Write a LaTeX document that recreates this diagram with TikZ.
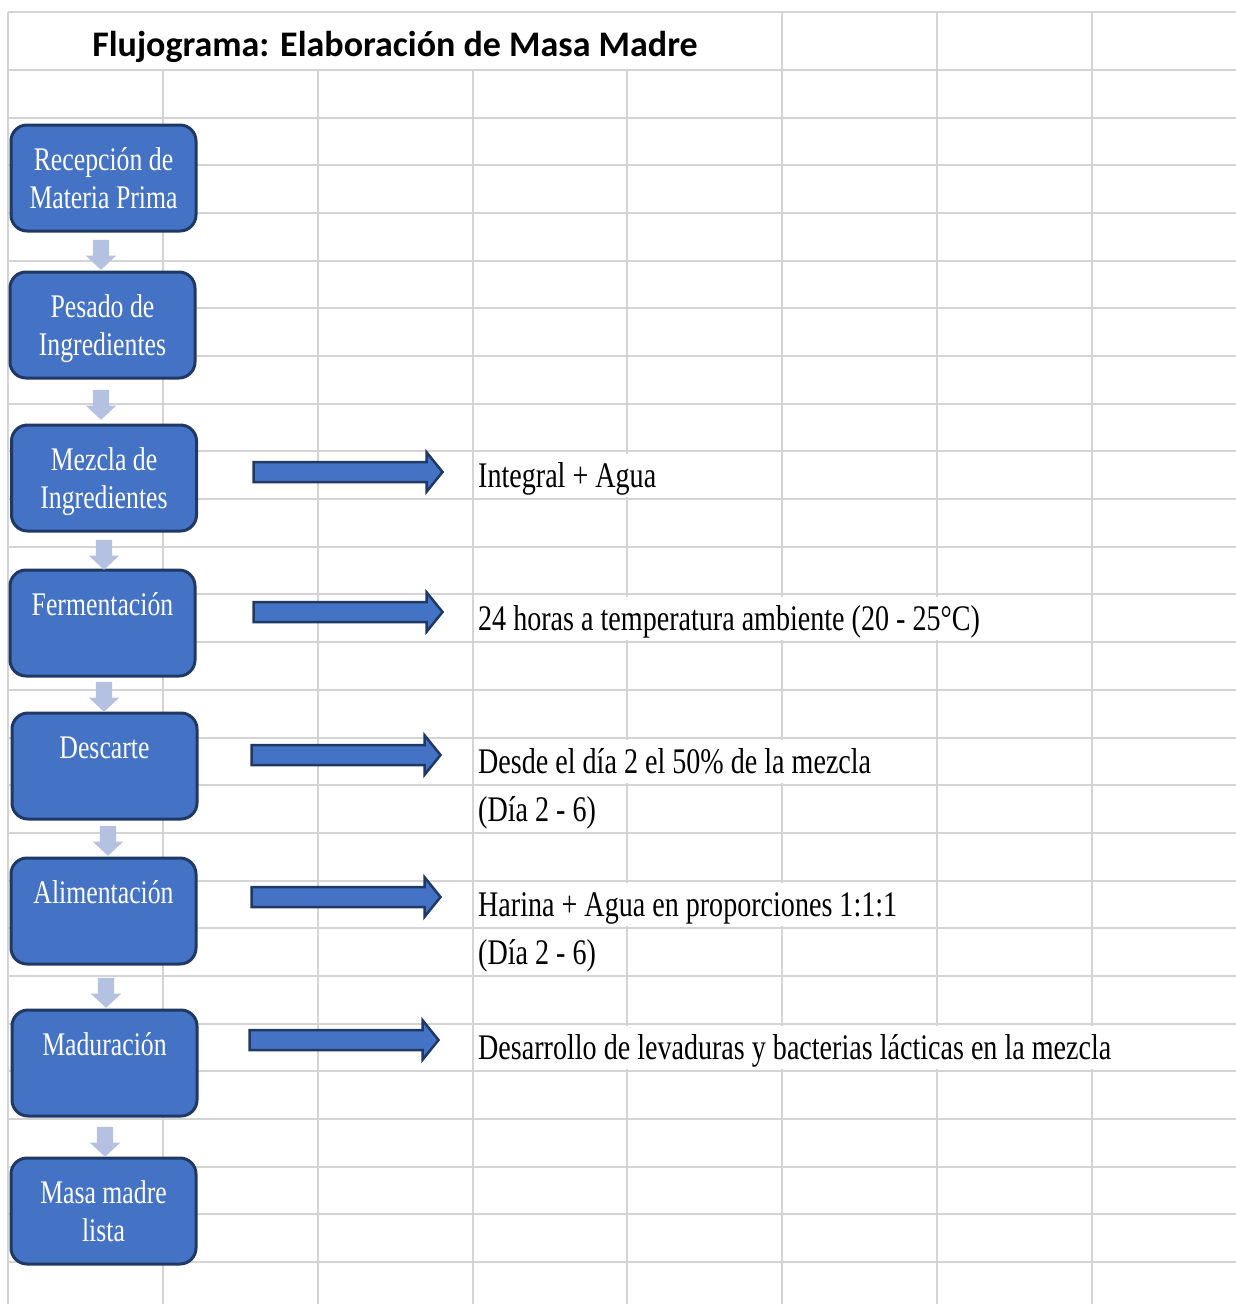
\documentclass[tikz,border=0pt]{standalone}
\usepackage{fontspec}
\setmainfont{Liberation Serif}
\newfontfamily\cellfont[FakeStretch=0.78]{Liberation Serif}
\newfontfamily\titlefont{Carlito}
\usetikzlibrary{shapes.arrows}

\definecolor{gridgray}{HTML}{D4D4D4}
\definecolor{boxblue}{HTML}{4472C4}
\definecolor{boxline}{HTML}{203864}
\definecolor{paleblue}{HTML}{B4C1E1}

\begin{document}
\begin{tikzpicture}[x=1pt,y=-1pt,
    cellline/.style={gridgray,line width=2pt},
    stepbox/.style={draw=boxline,line width=3pt,fill=boxblue,rounded corners=16pt,
      text=white,font=\cellfont\fontsize{33}{38}\selectfont,align=center,
      minimum width=185pt,inner sep=0pt,text height=45.5pt,text depth=60.5pt,anchor=north},
    twoline/.style={text height=83.5pt,text depth=22.5pt},
    downarrow/.style={single arrow,fill=paleblue,inner sep=8pt,minimum height=30pt,
      minimum width=30pt,single arrow head extend=7pt,single arrow tip angle=94,
      shape border rotate=270},
    sidearrow/.style={single arrow,draw=boxline,line width=2.5pt,fill=boxblue,
      inner sep=8.75pt,minimum height=189pt,minimum width=37pt,
      single arrow head extend=9.75pt,single arrow tip angle=102},
    note/.style={fill=white,anchor=base west,inner xsep=2pt,inner ysep=0pt,
      text height=33pt,text depth=10pt,font=\cellfont\fontsize{36}{40}\selectfont}]
  \useasboundingbox (0,0) rectangle (1236,1304);

  % hoja de calculo
  \draw[cellline] (8,12) -- (1236,12);
  \foreach \k in {0,...,25}
    \draw[cellline] (8,{70+47.68*\k}) -- (1236,{70+47.68*\k});
  \foreach \j in {0,5,6,7}
    \draw[cellline] ({8+154.86*\j},12) -- ({8+154.86*\j},1304);
  \foreach \j in {1,...,4}
    \draw[cellline] ({8+154.86*\j},70) -- ({8+154.86*\j},1304);

  \node[font=\titlefont\bfseries\fontsize{36}{40}\selectfont,anchor=base] (title) at (395,56)
    {Flujograma: Elaboración de Masa Madre};

  % pasos
  \node[stepbox,twoline] (recep) at (103.5,123.5) {Recepción de\\Materia Prima};
  \node[stepbox,twoline] (pesado) at (102.5,270.5) {Pesado de\\Ingredientes};
  \node[stepbox,twoline] (mezcla) at (104,423.5) {Mezcla de\\Ingredientes};
  \node[stepbox] (ferm) at (102.5,568.5) {Fermentación};
  \node[stepbox] (desc) at (104.5,711.5) {Descarte};
  \node[stepbox] (alim) at (103.5,856.5) {Alimentación};
  \node[stepbox] (madur) at (104.5,1008.5) {Maduración};
  \node[stepbox,twoline] (lista) at (103.5,1156.5) {Masa madre\\lista};

  \node[downarrow] (d1) at (101,251) {};
  \node[downarrow] (d2) at (101,401) {};
  \node[downarrow] (d3) at (104,551) {};
  \node[downarrow] (d4) at (104,693) {};
  \node[downarrow] (d5) at (108,837) {};
  \node[downarrow] (d6) at (106,989) {};
  \node[downarrow] (d7) at (105,1138) {};

  % notas
  \node[sidearrow] (a1) at (344,472) {};
  \node[sidearrow] (a2) at (344,612) {};
  \node[sidearrow] (a3) at (342,755) {};
  \node[sidearrow] (a4) at (342,897) {};
  \node[sidearrow] (a5) at (340,1040) {};

  \node[note] (n1) at (476,487) {Integral + Agua};
  \node[note] (n2) at (476,630) {24 horas a temperatura ambiente (20 - 25°C)};
  \node[note] (n3) at (476,773) {Desde el día 2 el 50\% de la mezcla};
  \node[note] (n4) at (476,821) {(Día 2 - 6)};
  \node[note] (n5) at (476,916) {Harina + Agua en proporciones 1:1:1};
  \node[note] (n6) at (476,964) {(Día 2 - 6)};
  \node[note] (n7) at (476,1059) {Desarrollo de levaduras y bacterias lácticas en la mezcla};
\end{tikzpicture}
\end{document}
